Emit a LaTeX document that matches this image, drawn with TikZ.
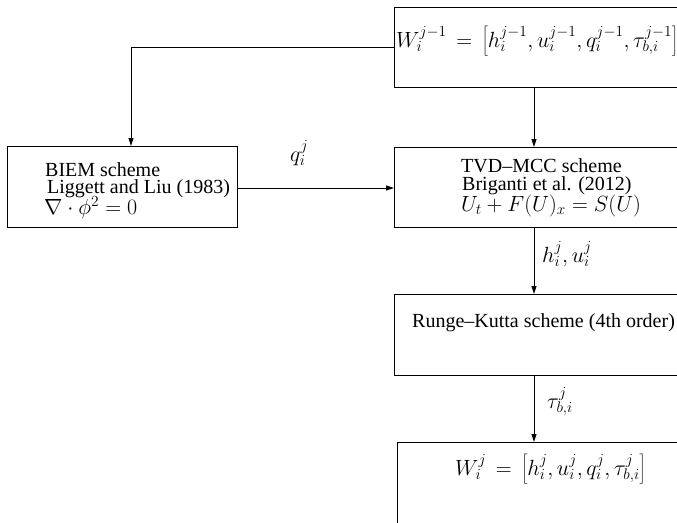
\RequirePackage{fix-cm}
\documentclass[tikz,border=0pt]{standalone}
\usepackage{fontspec}
\setmainfont{Liberation Serif}
\usetikzlibrary{arrows.meta}
% slightly larger size for the formulas
\newcommand\mathsz{\fontsize{22}{18.5}\selectfont}
\begin{document}
\begin{tikzpicture}[x=1pt,y=-1pt,
  font=\fontsize{20}{18.5}\selectfont,
  box/.style={draw,line width=1pt,rectangle,inner sep=0pt,anchor=north west},
  txt/.style={anchor=base west,inner sep=0pt},
  mtxt/.style={anchor=base west,inner sep=0pt,font=\mathsz},
  lbl/.style={anchor=base west,inner sep=0pt,font=\mathsz},
  flow/.style={line width=1pt,-{Stealth[length=8pt,width=5pt,inset=0pt]}}]
\useasboundingbox (0,0) rectangle (677,522);
\begin{scope}
\clip (0,0) rectangle (677,522);
% boxes
\node[box,minimum width=300pt,minimum height=80pt] (top) at (394,7) {};
\node[box,minimum width=230pt,minimum height=81pt] (biem) at (7,146) {};
\node[box,minimum width=300pt,minimum height=80pt] (tvd) at (394,147) {};
\node[box,minimum width=300pt,minimum height=81pt] (rk) at (394,294) {};
\node[box,minimum width=300pt,minimum height=100pt] (res) at (397,442) {};
% box texts
\node[mtxt] (ttop) at (396,47) {$W_i^{j-1}\,=\,\left[h_i^{j-1},u_i^{j-1},q_i^{j-1},\tau_{b,i}^{j-1}\right]$};
\node[txt] (tb1) at (45,176) {BIEM scheme};
\node[txt] (tb2) at (47,193) {Liggett and Liu (1983)};
\node[mtxt] (tb3) at (44,214) {$\nabla\cdot\phi^2=0$};
\node[txt] (tt1) at (461,172) {TVD\textendash MCC scheme};
\node[txt] (tt2) at (462,190) {Briganti et al. (2012)};
\node[mtxt] (tt3) at (461,211) {$U_t+F(U)_x=S(U)$};
\node[txt] (trk) at (412,327) {Runge\textendash Kutta scheme (4th order)};
\node[mtxt] (tres) at (455,475) {$W_i^j\,=\,\left[h_i^j,u_i^j,q_i^j,\tau_{b,i}^j\right]$};
% column of the vertical connectors
\coordinate (col) at (534,0);
\coordinate (drop) at (131,0);
% connectors
\draw[flow] (top.west |- 0,47) -| (biem.north -| drop);
\draw[flow] (top.south -| col) -- (tvd.north -| col);
\draw[flow] (biem.east |- 0,188) -- (tvd.west |- 0,188);
\draw[flow] (tvd.south -| col) -- (rk.north -| col);
\draw[flow] (rk.south -| col) -- (res.north -| col);
% connector labels
\node[lbl] (lq) at (290,161) {$q_i^j$};
\node[lbl] (lhu) at (542,262) {$h_i^j,u_i^j$};
\node[lbl] (ltau) at (547,408) {$\tau_{b,i}^j$};
\end{scope}
\end{tikzpicture}
\end{document}
